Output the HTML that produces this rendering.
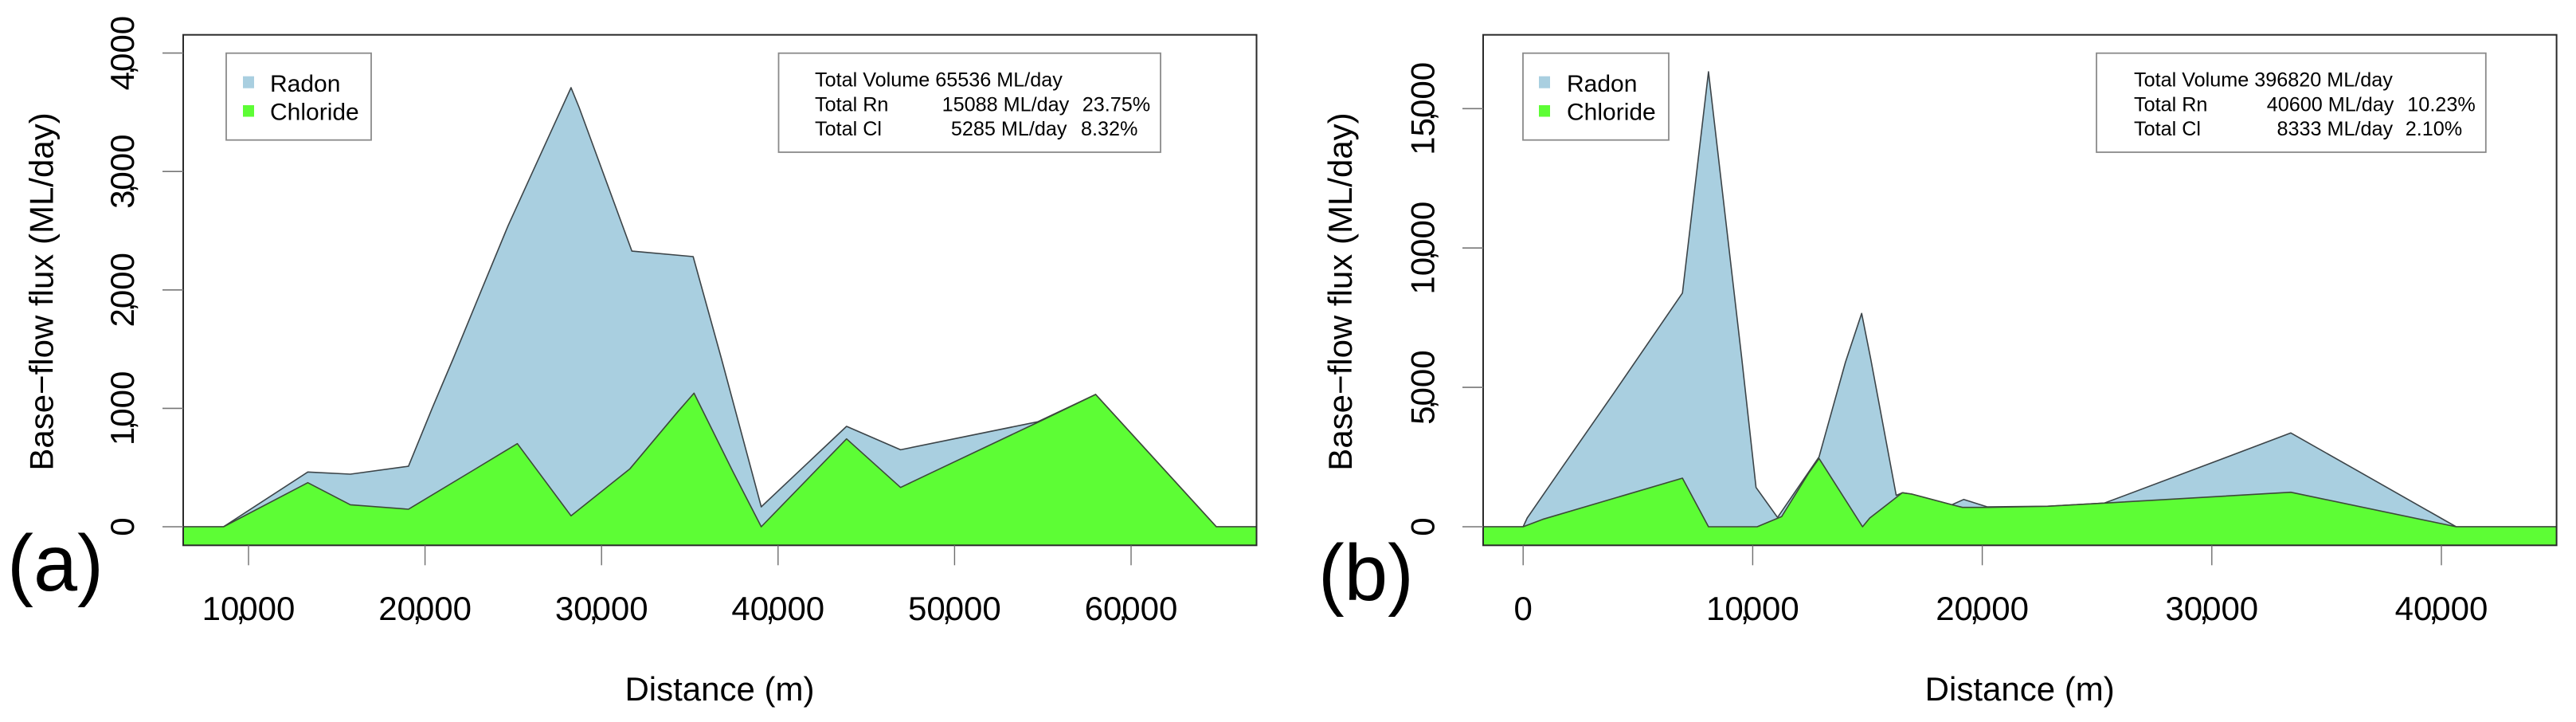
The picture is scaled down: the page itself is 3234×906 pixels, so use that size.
<!DOCTYPE html>
<html lang="en">
<head>
<meta charset="utf-8">
<title>Base-flow flux along distance, panels a and b</title>
<style>
html,body{margin:0;padding:0;background:#fff;width:3234px;height:906px;overflow:hidden}
svg{display:block}
text{font-family:"Liberation Sans",sans-serif;fill:#000}
.axis{font-size:42px}
.leg{font-size:30px}
.info{font-size:25.2px}
.tag{font-size:100px}
.box{fill:#fff;stroke:#8a8a8a;stroke-width:1.8}
</style>
</head>
<body>
<svg id="figure" xmlns="http://www.w3.org/2000/svg" width="3234" height="906" viewBox="0 0 3234 906">
  <defs>
    <clipPath id="clip-a"><rect x="230" y="43.7" width="1347.5" height="640.6"/></clipPath>
    <clipPath id="clip-b"><rect x="1862" y="43.7" width="1347.6" height="640.6"/></clipPath>
  </defs>

  <g id="panel-a"></g>
  <g id="panel-b"></g>

  <g>
    <text class="tag" x="9" y="741" transform="translate(9 0) scale(0.99 1) translate(-9 0)">(a)</text>
    <text class="axis" x="903.5" y="879" text-anchor="middle">Distance (m)</text>
    <text class="axis" x="66.5" y="366" text-anchor="middle" transform="rotate(-90 66.5 366)">Base−flow flux (ML/day)</text>
    <g>
      <rect class="box" x="284" y="66.7" width="182" height="109"/>
      <rect x="305" y="95.7" width="14" height="15" fill="#a9cfe0"/>
      <rect x="305" y="132" width="14" height="14.5" fill="#5dfd35"/>
      <text class="leg" x="339" y="115">Radon</text>
      <text class="leg" x="339" y="150.7">Chloride</text>
    </g>
    <g>
      <rect class="box" x="977.5" y="66.7" width="479.5" height="124.3"/>
      <text class="info" x="1023" y="108.3">Total Volume 65536 ML/day</text>
      <text class="info" x="1023" y="139.3">Total Rn</text>
      <text class="info" x="1182.6" y="139.3">15088 ML/day</text>
      <text class="info" x="1358.7" y="139.3">23.75%</text>
      <text class="info" x="1023" y="170">Total Cl</text>
      <text class="info" x="1193.9" y="170">5285 ML/day</text>
      <text class="info" x="1357" y="170">8.32%</text>
    </g>
  </g>

  <g>
    <text class="tag" x="1655" y="753" transform="translate(1655 0) scale(0.98 1) translate(-1655 0)">(b)</text>
    <text class="axis" x="2535.7" y="879" text-anchor="middle">Distance (m)</text>
    <text class="axis" x="1697" y="366" text-anchor="middle" transform="rotate(-90 1697 366)">Base−flow flux (ML/day)</text>
    <g>
      <rect class="box" x="1912" y="66.7" width="183" height="109"/>
      <rect x="1932" y="95.7" width="14" height="15" fill="#a9cfe0"/>
      <rect x="1932" y="132" width="14" height="14.5" fill="#5dfd35"/>
      <text class="leg" x="1967" y="115">Radon</text>
      <text class="leg" x="1967" y="150.7">Chloride</text>
    </g>
    <g>
      <rect class="box" x="2632" y="66.7" width="488.8" height="124.3"/>
      <text class="info" x="2679" y="108.3">Total Volume 396820 ML/day</text>
      <text class="info" x="2679" y="139.3">Total Rn</text>
      <text class="info" x="2845.7" y="139.3">40600 ML/day</text>
      <text class="info" x="3022.3" y="139.3">10.23%</text>
      <text class="info" x="2679" y="170">Total Cl</text>
      <text class="info" x="2858.5" y="170">8333 ML/day</text>
      <text class="info" x="3019.7" y="170">2.10%</text>
    </g>
  </g>
</svg>

<script>
// Panel (a) data
const radonDistanceA = [5000, 8583, 13357, 15770, 19060, 20400, 21597, 23200, 24700, 25970, 28270, 28730, 31720, 35190, 36790, 39050, 43880, 46940, 54700, 57990, 64830, 70000];
const radonFluxA = [0, 0, 462, 444, 511, 1000, 1420, 2000, 2541, 2956, 3708, 3540, 2328, 2281, 1420, 168, 848, 650, 886, 1117, 0, 0];
const chlorideDistanceA = [5000, 8583, 13357, 15770, 19060, 22740, 25230, 28270, 31610, 34320, 35240, 37430, 39050, 43880, 46940, 48820, 54700, 57990, 64830, 70000];
const chlorideFluxA = [0, 0, 372, 186, 148, 478, 702, 92, 490, 971, 1128, 470, 0, 742, 332, 466, 881, 1117, 0, 0];
const xTicksA = [10000, 20000, 30000, 40000, 50000, 60000];
const yTicksA = [0, 1000, 2000, 3000, 4000];

// Panel (b) data
const radonDistanceB = [-3000, 0, 177, 1693, 3949, 6940, 8074, 9525, 10146, 11083, 12890, 14039, 14747, 15139, 16253, 16520, 16926, 18678, 19195, 20212, 22831, 25323, 29015, 33442, 36399, 40642, 48000];
const radonFluxB = [0, 0, 315, 2124, 4794, 8385, 16324, 6032, 1410, 334, 2507, 5900, 7653, 6032, 1125, 1220, 1172, 790, 981, 715, 735, 849, 1990, 3365, 1985, 0, 0];
const chlorideDistanceB = [-3000, 0, 850, 6940, 8074, 10194, 11259, 12450, 12890, 14785, 15101, 16520, 16926, 18678, 19140, 20247, 22831, 25323, 33442, 40642, 48000];
const chlorideFluxB = [0, 0, 267, 1744, 0, 0, 362, 1940, 2450, 0, 315, 1220, 1172, 790, 695, 695, 735, 849, 1238, 0, 0];
const xTicksB = [0, 10000, 20000, 30000, 40000];
const yTicksB = [0, 5000, 10000, 15000];

const SVG_NS = 'http://www.w3.org/2000/svg';

function make(tag, parent, attrs) {
  const el = document.createElementNS(SVG_NS, tag);
  for (const k in attrs) el.setAttribute(k, attrs[k]);
  parent.appendChild(el);
  return el;
}

function fillTickText(textEl, value) {
  const s = String(value);
  const cut = s.length - 3;
  if (cut <= 0) {
    textEl.textContent = s;
    return;
  }
  const head = make('tspan', textEl, {});
  head.textContent = s.slice(0, cut);
  const comma = make('tspan', textEl, {dx: -4});
  comma.textContent = ',';
  const tail = make('tspan', textEl, {dx: -7.7});
  tail.textContent = s.slice(cut);
}

function drawPanel(p) {
  const g = document.getElementById(p.id);
  const x = d => p.xOrigin + (d - p.xOriginValue) * p.xScale;
  const y = v => p.yZero - v * p.yScale;

  const plot = make('g', g, {'clip-path': 'url(#' + p.clip + ')'});
  
  

  const areaPath = (ds, vs) => {
    let path = 'M' + x(ds[0]).toFixed(1) + ' ' + (p.bottom + 6);
    ds.forEach((d, i) => { path += ' L' + x(d).toFixed(1) + ' ' + y(vs[i]).toFixed(1); });
    path += ' L' + x(ds[ds.length - 1]).toFixed(1) + ' ' + (p.bottom + 6) + ' Z';
    return path;
  };

  const radon = make('path', plot, {d: areaPath(p.radonD, p.radonV), fill: '#a9cfe0', stroke: '#3c4448', 'stroke-width': 1.6, 'stroke-linejoin': 'round'});
  
  

  const chloride = make('path', plot, {d: areaPath(p.chlorideD, p.chlorideV), fill: '#5dfd35', stroke: '#3c4a38', 'stroke-width': 1.6, 'stroke-linejoin': 'round'});
  
  

  const frame = make('rect', g, {x: p.left, y: p.top, width: p.right - p.left, height: p.bottom - p.top, fill: 'none', stroke: '#2a2a2a', 'stroke-width': 2});
  
  

  p.xTicks.forEach(t => {
    const px = x(t);
    const tick = make('line', g, {x1: px, x2: px, y1: p.bottom, y2: p.bottom + 25, stroke: '#6e6e6e', 'stroke-width': 1.4});
    
    
    const label = make('text', g, {class: 'axis', x: px, y: 778, 'text-anchor': 'middle'});
    
    
    fillTickText(label, t);
  });

  p.yTicks.forEach(t => {
    const py = y(t);
    const tick = make('line', g, {x1: p.left - 26, x2: p.left, y1: py, y2: py, stroke: '#777', 'stroke-width': 1.6});
    
    
    const label = make('text', g, {class: 'axis', x: p.yLabelX, y: py, 'text-anchor': 'middle', transform: 'rotate(-90 ' + p.yLabelX + ' ' + py + ')'});
    
    
    fillTickText(label, t);
  });
}

drawPanel({
  id: 'panel-a', prefix: 'panel-a', clip: 'clip-a',
  left: 230, right: 1577.5, top: 43.7, bottom: 684.3,
  xOrigin: 312, xOriginValue: 10000, xScale: 0.02216,
  yZero: 661, yScale: 0.1486, yLabelX: 168,
  radonD: radonDistanceA, radonV: radonFluxA,
  chlorideD: chlorideDistanceA, chlorideV: chlorideFluxA,
  xTicks: xTicksA, yTicks: yTicksA
});

drawPanel({
  id: 'panel-b', prefix: 'panel-b', clip: 'clip-b',
  left: 1862, right: 3209.6, top: 43.7, bottom: 684.3,
  xOrigin: 1912.2, xOriginValue: 0, xScale: 0.02882,
  yZero: 661, yScale: 0.03498, yLabelX: 1800.5,
  radonD: radonDistanceB, radonV: radonFluxB,
  chlorideD: chlorideDistanceB, chlorideV: chlorideFluxB,
  xTicks: xTicksB, yTicks: yTicksB
});
</script>
</body>
</html>
